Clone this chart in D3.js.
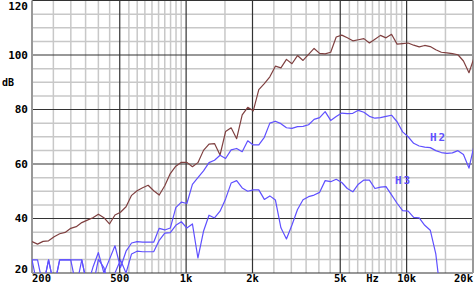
<!DOCTYPE html>
<html lang="en">
<head>
    <title>Frequency response with H2 / H3</title>
    <meta charset="utf-8"/>
    <script src="https://d3js.org/d3.v7.min.js"></script>
    <style>
        body { margin: 0; background: #fff; }
        text { font-family: "DejaVu Sans Mono", monospace; font-weight: bold; }
    </style>
</head>
<body>
<div id="viz">
    <svg width="475" height="283"></svg>
</div>

<script type="text/javascript">

    // frequencies, 1/12 octave from 200 Hz
    const freqs = [200, 211.9, 224.5, 237.8, 252, 267, 282.8, 299.7, 317.5, 336.4,
        356.4, 377.6, 400, 423.8, 449, 475.7, 504, 534, 565.7, 599.3,
        635, 672.7, 712.7, 755.1, 800, 847.6, 898, 951.4, 1008, 1068,
        1131, 1199, 1270, 1345, 1425, 1510, 1600, 1695, 1796, 1903,
        2016, 2136, 2263, 2397, 2540, 2691, 2851, 3020, 3200, 3390,
        3592, 3805, 4032, 4271, 4525, 4794, 5080, 5382, 5702, 6041,
        6400, 6781, 7184, 7611, 8063, 8543, 9051, 9589, 10159, 10764,
        11404, 12082, 12800, 13561, 14368, 15222, 16127, 17086, 18102, 19178,
        20319];

    // fundamental (dB)
    const fund = [31.5, 30.6, 31.6, 31.8, 33.3, 34.4, 34.9, 36.4, 37.0, 38.5,
        39.4, 40.3, 41.6, 40.3, 38.0, 41.3, 42.3, 44.3, 48.5, 50.2,
        51.3, 52.2, 50.2, 48.6, 52.0, 56.5, 59.2, 60.6, 60.6, 59.0,
        60.5, 65.0, 67.3, 67.5, 63.3, 71.9, 73.3, 69.3, 78.0, 80.8,
        79.5, 87.3, 89.5, 92.0, 95.9, 95.3, 98.4, 96.8, 99.8, 98.0,
        100.2, 102.4, 100.6, 100.4, 101.0, 106.6, 107.3, 106.3, 105.2, 105.6,
        106.0, 104.4, 105.8, 107.2, 106.3, 107.6, 104.0, 104.2, 104.4, 103.6,
        103.0, 103.5, 103.1, 101.9, 101.0, 100.8, 100.5, 100.1, 97.8, 93.5,
        99.5];

    // 2nd harmonic (dB)
    const h2 = [24.8, 24.8, 15, 24.8, 15, 24.8, 24.8, 24.8, 24.8, 24.8,
        15, 22, 27.5, 20, 25, 30, 22, 28, 31, 31.5,
        31.3, 31.3, 31.3, 36.4, 35.8, 36.5, 44, 46, 45.5, 52.5,
        55, 57.5, 60.5, 61.4, 63.2, 62, 65.2, 65.7, 64.5, 68.5,
        67.0, 67.0, 69.8, 75.0, 75.7, 74.8, 73.3, 73.1, 73.7, 73.8,
        74.4, 76.4, 77.0, 79.2, 76.0, 77.4, 78.7, 78.5, 78.6, 79.7,
        79.0, 77.5, 76.8, 77.0, 77.5, 77.9, 75.5, 71.8, 70.0, 67.6,
        66.6, 66.2, 66.0, 64.9, 64.2, 63.9, 64.1, 64.9, 63.5, 58.5,
        67.5];

    // 3rd harmonic (dB), ends below the chart
    const h3 = [24.8, 15, 15, 24.8, 15, 24.8, 24.8, 24.8, 15, 24.8,
        15, 15, 25, 22, 15, 20, 24.8, 20, 27, 28,
        27.8, 27.8, 27.8, 32, 34.6, 34.8, 37.5, 38.8, 36.5, 38.0,
        25.5, 35.3, 41.2, 40.2, 42.7, 47.2, 53.0, 53.9, 51.2, 50.0,
        50.5, 50.5, 47.0, 48.3, 46.8, 36.6, 32.5, 37.6, 43.3, 46.9,
        48.0, 48.6, 49.6, 53.9, 53.5, 54.4, 53.2, 51.0, 49.8, 52.6,
        54.1, 54.1, 51.0, 51.5, 51.7, 48.7, 45.6, 42.9, 42.7, 40.4,
        40.2, 37.5, 35.7, 27, 10, null, null, null, null, null,
        null];

    // grid and tick labels
    const majorX = [200, 500, 1000, 2000, 5000, 10000, 20000];
    const minorX = [250, 300, 350, 400, 450, 550, 600, 650, 700, 750, 800, 850, 900, 950,
        1500, 2500, 3000, 3500, 4000, 4500,
        5500, 6000, 6500, 7000, 7500, 8000, 8500, 9000, 9500, 15000];
    const xLabels = [[200, "200"], [500, "500"], [1000, "1k"], [2000, "2k"], [5000, "5k"],
        [7000, "Hz"], [10000, "10k"], [20000, "20k"]];
    const majorY = [20, 40, 60, 80, 100, 120];
    const minorY = d3.range(25, 120, 5).filter(d => d % 20 !== 0);

    const brown = "#7f4040", blue = "#5f50ff";

    let x = d3.scaleLog().domain([200, 20000]).range([32, 473]);
    let y = d3.scaleLinear().domain([20, 120]).range([273, 0.5]);

    let svg = d3.select("svg");

    // clip to the plot area
    svg.append("clipPath").attr("id", "plot")
        .append("rect")
        .attr("x", x(200)).attr("y", y(120))
        .attr("width", x(20000) - x(200))
        .attr("height", y(20) - y(120));

    // minor grid
    svg.append("g").selectAll("line").data(minorX).enter()
        .append("line")
        .attr("x1", d => x(d)).attr("x2", d => x(d))
        .attr("y1", y(120)).attr("y2", y(20))
        .attr("stroke", "#c8c8c8").attr("stroke-width", 1.5);
    svg.append("g").selectAll("line").data(minorY).enter()
        .append("line")
        .attr("x1", x(200)).attr("x2", x(20000))
        .attr("y1", d => y(d)).attr("y2", d => y(d))
        .attr("stroke", "#c8c8c8").attr("stroke-width", 1.5);

    // major grid
    svg.append("g").selectAll("line").data(majorX.slice(1, -1)).enter()
        .append("line")
        .attr("x1", d => x(d)).attr("x2", d => x(d))
        .attr("y1", y(120)).attr("y2", y(20))
        .attr("stroke", "#333").attr("stroke-width", 1.2);
    svg.append("g").selectAll("line").data(majorY).enter()
        .append("line")
        .attr("x1", x(200)).attr("x2", x(20000))
        .attr("y1", d => y(d)).attr("y2", d => y(d))
        .attr("stroke", "#333").attr("stroke-width", 1.2);

    // left and right border
    svg.append("g").selectAll("line").data([200, 20000]).enter()
        .append("line")
        .attr("x1", d => x(d)).attr("x2", d => x(d))
        .attr("y1", y(120)).attr("y2", y(20))
        .attr("stroke", "#999").attr("stroke-width", 2);

    // curves
    let line = d3.line()
        .defined(d => d[1] !== null)
        .x(d => x(d[0]))
        .y(d => y(d[1]));

    let series = [[fund, brown], [h2, blue], [h3, blue]];
    svg.append("g").attr("clip-path", "url(#plot)")
        .selectAll("path").data(series).enter()
        .append("path")
        .attr("d", s => line(freqs.map((f, i) => [f, s[0][i]])))
        .attr("fill", "none")
        .attr("stroke", s => s[1])
        .attr("stroke-width", 1.2)
        .attr("stroke-linejoin", "round");

    // y labels
    svg.append("g").selectAll("text").data(majorY).enter()
        .append("text")
        .attr("x", 28)
        .attr("y", d => d === 120 ? y(d) + 6 : (d === 20 ? y(d) - 4 : y(d)))
        .attr("dy", "0.35em")
        .attr("text-anchor", "end")
        .style("font-size", "11px")
        .text(d => d);

    svg.append("text")
        .attr("x", 2).attr("y", 82).attr("dy", "0.35em")
        .style("font-size", "10px")
        .text("dB");

    // x labels
    svg.append("g").selectAll("text").data(xLabels).enter()
        .append("text")
        .attr("x", d => x(d[0]))
        .attr("y", 282)
        .attr("text-anchor", d => d[0] === 200 ? "start" : (d[0] === 20000 ? "end" : "middle"))
        .style("font-size", "10.5px")
        .text(d => d[1]);

    // series labels
    svg.append("text")
        .attr("x", 430).attr("y", 137).attr("dy", "0.35em")
        .attr("fill", blue).style("font-size", "11px")
        .style("letter-spacing", "2px")
        .text("H2");
    svg.append("text")
        .attr("x", 395).attr("y", 180).attr("dy", "0.35em")
        .attr("fill", blue).style("font-size", "11px")
        .style("letter-spacing", "2px")
        .text("H3");

</script>
</body>
</html>
